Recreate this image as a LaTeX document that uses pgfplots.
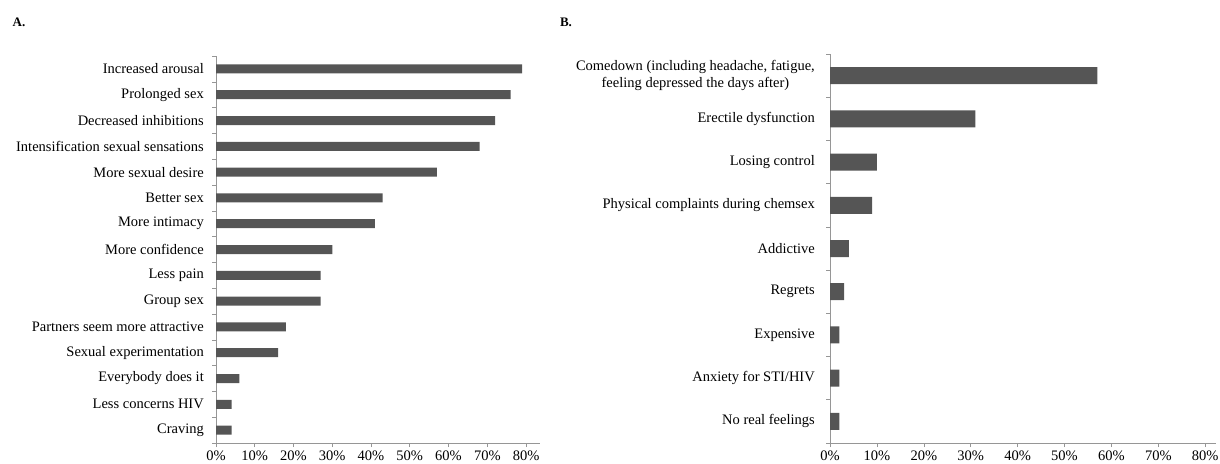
\documentclass[border=0pt]{standalone}
\usepackage{fontspec}
\setmainfont{Liberation Serif}
\usepackage{pgfplots}
\pgfplotsset{compat=1.18}
\definecolor{barcol}{RGB}{85,85,85}
\definecolor{axcol}{RGB}{150,150,150}
\begin{document}
\fontsize{14.5}{16.5}\selectfont
\begin{tikzpicture}[x=1pt,y=1pt]
\useasboundingbox (0,0) rectangle (1220,463);
\pgfplotsset{
  common/.style={
    scale only axis, xbar, y dir=reverse,
    axis x line=bottom, axis y line=left,
    axis line style={axcol,-},
    xmin=0,
    xtick={0,0.1,0.2,0.3,0.4,0.5,0.6,0.7,0.8},
    xticklabels={0\%,10\%,20\%,30\%,40\%,50\%,60\%,70\%,80\%},
    tick align=outside, major tick length=4pt,
    tick style={axcol, line width=0.6pt},
    yticklabels={},
    ticklabel style={font=\fontsize{14.5}{16.5}\selectfont},
    xticklabel style={inner sep=1pt, yshift=-3pt},
    yticklabel style={align=center, inner sep=0pt, xshift=-12pt},
    extra y tick style={major tick length=0pt},
    clip=false,
  }
}
\begin{axis}[common,
  at={(216pt,20pt)}, anchor=south west,
  width=324pt, height=387pt,
  xmax=0.836, ymin=-0.5, ymax=14.5,
  ytick={-0.5,0.5,1.5,2.5,3.5,4.5,5.5,6.5,7.5,8.5,9.5,10.5,11.5,12.5,13.5,14.5},
  extra y ticks={0,1,2,3,4,5,6,7,8,9,10,11,12,13,14},
  extra y tick labels={Increased arousal,Prolonged sex,Decreased inhibitions,Intensification sexual sensations,More sexual desire,Better sex,More intimacy,More confidence,Less pain,Group sex,Partners seem more attractive,Sexual experimentation,Everybody does it,Less concerns HIV,Craving},
]
\addplot[fill=barcol, draw=none, bar width=9pt, bar shift=0pt] coordinates {
(0.79,0) (0.76,1) (0.72,2) (0.68,3) (0.57,4) (0.43,5) (0.41,6) (0.30,7)
(0.27,8) (0.27,9) (0.18,10) (0.16,11) (0.06,12) (0.04,13) (0.04,14)};
\end{axis}
\begin{axis}[common,
  at={(830pt,20pt)}, anchor=south west,
  width=386pt, height=389pt,
  xmax=0.823, ymin=-0.5, ymax=8.5,
  ytick={-0.5,0.5,1.5,2.5,3.5,4.5,5.5,6.5,7.5,8.5},
  extra y ticks={0,1,2,3,4,5,6,7,8},
  extra y tick labels={{Comedown (including headache, fatigue,\\feeling depressed the days after)},Erectile dysfunction,Losing control,Physical complaints during chemsex,Addictive,Regrets,Expensive,Anxiety for STI/HIV,No real feelings},
  yticklabel style={xshift=-3pt},
]
\addplot[fill=barcol, draw=none, bar width=17pt, bar shift=0pt] coordinates {
(0.57,0) (0.31,1) (0.10,2) (0.09,3) (0.04,4) (0.03,5) (0.02,6) (0.02,7) (0.02,8)};
\end{axis}
\node[font=\bfseries\fontsize{13}{15}\selectfont] at (19,441) {A.};
\node[font=\bfseries\fontsize{13}{15}\selectfont] at (566,441) {B.};
\end{tikzpicture}
\end{document}
